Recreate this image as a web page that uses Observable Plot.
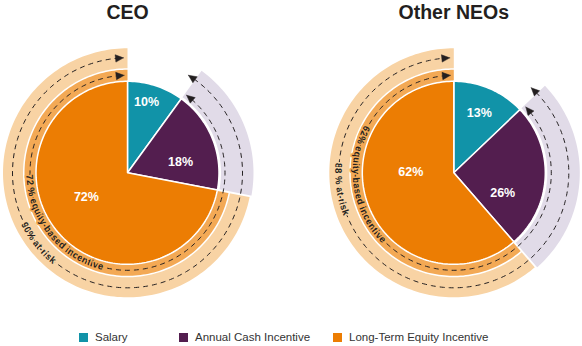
<!DOCTYPE html>
<html><head><meta charset="utf-8">
<script src="https://cdn.jsdelivr.net/npm/d3@7"></script>
<script src="https://cdn.jsdelivr.net/npm/@observablehq/plot@0.6"></script>
<style>
body{margin:0;background:#fff;font-family:"Liberation Sans",Arial,Helvetica,sans-serif;}
#wrap{position:relative;width:582px;height:346px;overflow:hidden;}
#chart svg{display:block;}
.legend{position:absolute;top:330px;left:0;width:582px;height:14px;font-size:11.5px;color:#333;}
.item{position:absolute;top:0;height:14px;display:flex;align-items:center;white-space:nowrap;}
.sw{width:9px;height:9px;margin-right:7px;flex:none;}
</style></head><body>
<div id="wrap"><div id="chart"></div><div class="legend" id="legend"></div></div>
<script>
// ---------- data ----------
const groups = ["CEO", "Other NEOs"];
const categories = ["Salary", "Annual Cash Incentive", "Long-Term Equity Incentive"];
const ceoValues = [10, 18, 72];
const neoValues = [13, 26, 62];
const equityLabels = ["72 % equity-based incentive", "62% equity-based incentive"];
const atRiskLabels = ["90% at-risk", "88 % at-risk"];

// ---------- style / layout ----------
const colors = ["#1193a8", "#531e4f", "#ec7d03"];
const ringInner = "#f3a955", ringOuter = "#f8d3a4", ringLav = "#e1dbe8", ink = "#231f20";
const W = 582, H = 316;
const centersX = [127, 453.3], centerY = 172.3, R = 91.5;
const legendLeft = [79, 179, 333];
// label placement: [angle nudge (deg), radius]
const labelNudge = [
  [[-3, 73.5], [10.5, 54], [9.5, 47.5]],
  [[0, 65], [20, 53], [21.5, 43]]
];
const textNudge = [1, 12];

const series = [ceoValues, neoValues];
const rad = d => d * Math.PI / 180;
const pt = (cx, r, a) => ({x: cx + r * Math.sin(rad(a)), y: centerY - r * Math.cos(rad(a))});

function sector(id, cx, r0, r1, a0, a1, fill) {
  const n = Math.max(2, Math.ceil(Math.abs(a1 - a0) / 1.5));
  const pts = [];
  for (let i = 0; i <= n; i++) pts.push(pt(cx, r1, a0 + (a1 - a0) * i / n));
  if (r0 > 0) for (let i = n; i >= 0; i--) pts.push(pt(cx, r0, a0 + (a1 - a0) * i / n));
  else pts.push(pt(cx, 0, 0));
  pts.push(pts[0]);
  return pts.map(p => ({...p, id, fill}));
}
function tri(id, cx, r, tipA, baseA, w) {
  const p = [pt(cx, r, tipA), pt(cx, r + w, baseA), pt(cx, r - w, baseA)];
  p.push(p[0]);
  return p.map(q => ({...q, id}));
}
function arcPts(id, cx, r, a0, a1) {
  const n = Math.max(2, Math.ceil(Math.abs(a1 - a0)));
  return d3.range(n + 1).map(i => ({...pt(cx, r, a0 + (a1 - a0) * i / n), id}));
}
function angles(vals) {
  const s = d3.sum(vals); let c = 0;
  return vals.map(v => { const a0 = c / s * 360; c += v; return [a0, c / s * 360]; });
}

const slicePts = [], ringPts = [], sepPts = [], dashPts = [], arrowPts = [], labelRows = [], titleRows = [], arcTexts = [];
groups.forEach((g, gi) => {
  const cx = centersX[gi];
  const ang = angles(series[gi]);
  const a1 = ang[0][1], a2 = ang[1][1];
  titleRows.push({x: cx, y: 12, text: g});
  ringPts.push(...sector(`lav${gi}`, cx, 93.5, 126, a1, a2, ringLav));
  ringPts.push(...sector(`in${gi}`, cx, R, 103, a2, 360, ringInner));
  ringPts.push(...sector(`out${gi}`, cx, 104.5, 124.5, a2, 360, ringOuter));
  sepPts.push({...pt(cx, R - 1, a2), id: `sep${gi}`}, {...pt(cx, 128, a2), id: `sep${gi}`});
  ang.forEach(([s, e], ci) => {
    slicePts.push(...sector(`s${gi}${ci}`, cx, 0, R, s, e, colors[ci]));
    const [dn, lr] = labelNudge[gi][ci];
    labelRows.push({...pt(cx, lr, (s + e) / 2 + dn), text: series[gi][ci] + "%"});
  });
  [[97.5, 1.3, ringInner, equityLabels[gi]], [115, -4, ringOuter, atRiskLabels[gi]]].forEach(([r, off, bg, txt], k) => {
    const L = 8, w = 3.7, Ld = L / r * 180 / Math.PI;
    const tipA = a1 + off, tipB = 358;
    arrowPts.push(...tri(`a${gi}${k}a`, cx, r, tipA, tipA + Ld, w));
    arrowPts.push(...tri(`a${gi}${k}b`, cx, r, tipB, tipB - Ld, w));
    dashPts.push(...arcPts(`d${gi}${k}`, cx, r, tipA + Ld * 0.8, tipB - Ld * 0.8));
    arcTexts.push({cx, r, c: (a2 + 360) / 2 + textNudge[gi], text: txt, bg});
  });
});

const font = '"Liberation Sans", Arial, Helvetica, sans-serif';
const plot = Plot.plot({
  width: W, height: H,
  margin: 0,
  x: {domain: [0, W], range: [0, W], axis: null},
  y: {domain: [0, H], range: [0, H], axis: null},
  color: {type: "identity"},
  style: {fontFamily: font, background: "#fff"},
  marks: [
    Plot.line(ringPts, {x: "x", y: "y", z: "id", fill: "fill", stroke: "none"}),
    Plot.line(sepPts, {x: "x", y: "y", z: "id", stroke: "white", strokeWidth: 1.8, strokeLinecap: "butt"}),
    Plot.line(slicePts, {x: "x", y: "y", z: "id", fill: "fill", stroke: "white", strokeWidth: 1.5, strokeLinejoin: "miter"}),
    Plot.line(dashPts, {x: "x", y: "y", z: "id", stroke: ink, strokeWidth: 1, strokeDasharray: "5,4", strokeLinecap: "butt"}),
    Plot.line(arrowPts, {x: "x", y: "y", z: "id", fill: ink, stroke: ink, strokeWidth: 0.5}),
    Plot.text(labelRows, {x: "x", y: "y", text: "text", fill: "white", fontSize: 12.5, fontWeight: "bold", fontFamily: font}),
    Plot.text(titleRows, {x: "x", y: "y", text: "text", fill: ink, fontSize: 19.5, fontWeight: "bold", fontFamily: font})
  ]
});

// curved texts along the rings
const xs = plot.scale("x").apply, ys = plot.scale("y").apply;
const svg = d3.select(plot);
const defs = svg.append("defs");
arcTexts.forEach((t, i) => {
  const pts = d3.range(t.c + 80, t.c - 80.01, -1).map(a => pt(t.cx, t.r, a));
  defs.append("path").attr("id", "tp" + i)
    .attr("d", "M" + pts.map(p => `${xs(p.x).toFixed(2)},${ys(p.y).toFixed(2)}`).join("L"));
  svg.append("text")
    .attr("font-family", font).attr("font-size", 9.5).attr("font-weight", "bold")
    .attr("fill", ink).attr("stroke", t.bg).attr("stroke-width", 3).attr("paint-order", "stroke")
    .attr("stroke-linejoin", "round").attr("dy", "0.33em")
    .append("textPath").attr("href", "#tp" + i).attr("startOffset", "50%").attr("text-anchor", "middle")
    .text(t.text);
});
document.getElementById("chart").appendChild(plot);

// legend
const leg = d3.select("#legend");
categories.forEach((c, i) => {
  const it = leg.append("div").attr("class", "item").style("left", legendLeft[i] + "px");
  it.append("div").attr("class", "sw").style("background", colors[i]);
  it.append("span").text(c);
});
</script>
</body></html>
